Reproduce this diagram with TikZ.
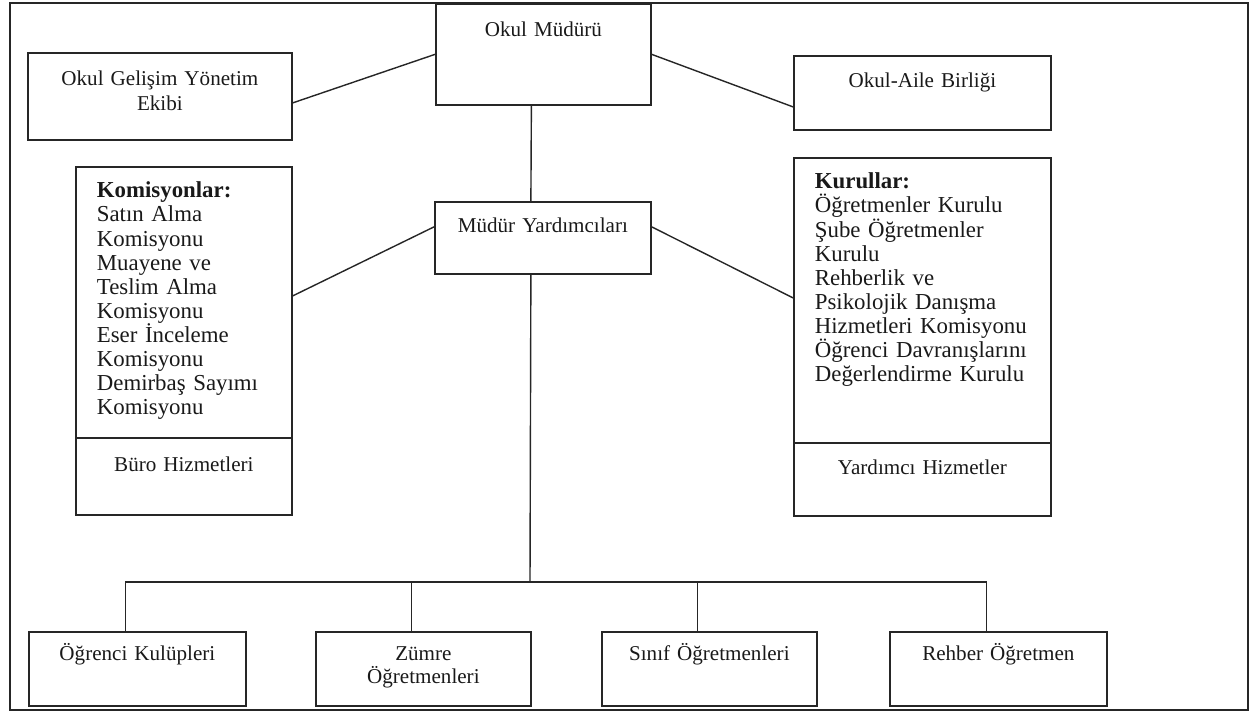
\documentclass[tikz,border=0pt]{standalone}
\usepackage{fontspec}
\setmainfont{Liberation Serif}

\begin{document}
\begin{tikzpicture}[x=0.2mm,y=-0.2mm,
    box/.style={draw=black!85, line width=1pt, anchor=north west, inner sep=0pt,
        align=center, text=black!90, font=\fontsize{12}{14}\selectfont},
    liste/.style={box, align=left, inner xsep=4.2mm, font=\fontsize{13}{13.7}\selectfont},
    hat/.style={draw=black!85, line width=0.8pt}]
    \useasboundingbox (0,0) rectangle (1251,714);
    \draw [black!85, line width=1.2pt] (10,3) rectangle (1248,710);
    % ust kademe
    \node [box, text width=43mm, text height=6.6mm, text depth=13.6mm] (mudur) at (435,3) {Okul Müdürü};
    \node [box, text width=52.8mm, text height=6.6mm, text depth=10.8mm] (gelisim) at (27,52) {Okul Gelişim Yönetim\\Ekibi};
    \node [box, text width=51.4mm, text height=6.4mm, text depth=8.4mm] (aile) at (793,55) {Okul-Aile Birliği};
    \node [box, text width=43.2mm, text height=6.2mm, text depth=8.2mm] (yard) at (434,201) {Müdür Yardımcıları};
    % yan kutular
    \node [liste, text width=34.8mm, text height=6.2mm, text depth=48mm] (komisyon) at (75,166)
        {\textbf{Komisyonlar:}\\Satın Alma\\Komisyonu\\Muayene ve\\Teslim Alma\\Komisyonu\\Eser İnceleme\\Komisyonu\\Demirbaş Sayımı\\Komisyonu};
    \node [box, text width=43.2mm, text height=6.8mm, text depth=8.6mm] (buro) at (75,437) {Büro Hizmetleri};
    \node [liste, text width=43mm, text height=6.2mm, text depth=50.8mm] (kurul) at (793,157)
        {\textbf{Kurullar:}\\Öğretmenler Kurulu\\Şube Öğretmenler\\Kurulu\\Rehberlik ve\\Psikolojik Danışma\\Hizmetleri Komisyonu\\Öğrenci Davranışlarını\\Değerlendirme Kurulu};
    \node [box, text width=51.4mm, text height=6.4mm, text depth=8.2mm] (yardhiz) at (793,442) {Yardımcı Hizmetler};
    % alt kademe
    \node [box, text width=43.4mm, text height=5.8mm, text depth=9mm] (kulup) at (28,631) {Öğrenci Kulüpleri};
    \node [box, text width=43mm, text height=5.8mm, text depth=9mm, font=\fontsize{12}{13}\selectfont] (zumre) at (315,631) {Zümre\\Öğretmenleri};
    \node [box, text width=43mm, text height=5.8mm, text depth=9mm] (sinif) at (601,631) {Sınıf Öğretmenleri};
    \node [box, text width=43.4mm, text height=5.8mm, text depth=9mm] (rehber) at (889,631) {Rehber Öğretmen};
    \coordinate (cizgi) at (530,582);
    % baglantilar
    \draw [hat] (mudur.west) -- ([yshift=-1.3mm]gelisim.east);
    \draw [hat] (mudur.east) -- ([yshift=-2.8mm]aile.west);
    \draw [hat] ([xshift=-2.4mm]mudur.south) -- ([xshift=-2.4mm]yard.north);
    \draw [hat] ([yshift=2.2mm]yard.west) -- ([yshift=1.3mm]komisyon.east);
    \draw [hat] ([yshift=2.2mm]yard.east) -- ([yshift=0.5mm]kurul.west);
    \draw [hat] ([xshift=-2.4mm]yard.south) -- (cizgi);
    \draw [hat] ([xshift=-2.4mm]kulup.north) |- (cizgi) -| ([xshift=-2.4mm]rehber.north);
    \draw [hat] ([xshift=-2.4mm]zumre.north) |- (cizgi);
    \draw [hat] ([xshift=-2.4mm]sinif.north) |- (cizgi);
\end{tikzpicture}
\end{document}
